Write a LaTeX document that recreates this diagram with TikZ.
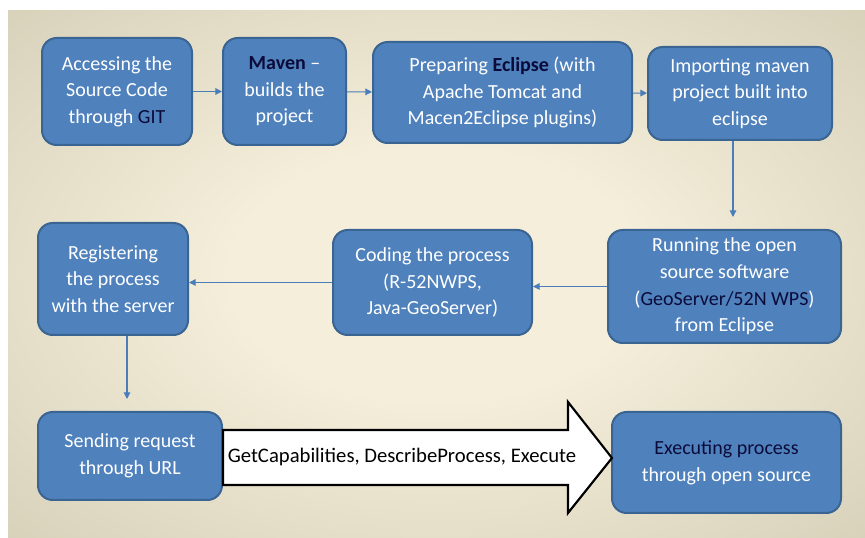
\documentclass[tikz,border=0pt]{standalone}
\usepackage{fontspec}
\setmainfont{Carlito}
\usetikzlibrary{arrows.meta}

\definecolor{boxblue}{HTML}{4F81BD}
\definecolor{boxedge}{HTML}{3A6491}
\definecolor{flowblue}{HTML}{4A7EBB}
\definecolor{keyword}{HTML}{0B0B3A}
\definecolor{bgcream}{HTML}{F4EEDA}
\definecolor{bgmid}{HTML}{C9C3AB}
\definecolor{bggray}{HTML}{97947F}

\pgfdeclareradialshading{bgshade}{\pgfpoint{0bp}{0bp}}{%
  color(0bp)=(bgcream); color(12bp)=(bgcream); color(48bp)=(bgmid); color(71bp)=(bggray)}

\tikzset{
  stepbox/.style={draw=boxedge, line width=1.5pt, fill=boxblue, rounded corners=11pt,
    text=white, align=center, inner sep=2pt, font=\fontsize{15}{20}\selectfont},
  flow/.style={draw=flowblue, line width=0.8pt, -{Triangle[length=5pt,width=5pt]}},
  bigarrow/.style={draw=black, line width=1.6pt, fill=white},
}
\newcommand{\keyw}[1]{\textcolor{keyword}{#1}}

\begin{document}
\begin{tikzpicture}[x=0.75pt, y=-0.75pt]
    \useasboundingbox (0,0) rectangle (865,538);

    % Background
    \shade[shading=bgshade] (8,11) rectangle (865,538);

    % First row
    \node[stepbox, minimum width=112.5pt, minimum height=80.25pt] (access) at (117,91.5)
        {Accessing the\\Source Code\\through \keyw{GIT}};
    \node[stepbox, minimum width=92.25pt, minimum height=80.25pt] (maven) at (284.5,91.5)
        {\keyw{\bfseries Maven} --\\builds the\\project};
    \node[stepbox, minimum width=194.25pt, minimum height=75.75pt] (eclipse) at (502.5,92.5)
        {Preparing \keyw{\bfseries Eclipse} (with\\Apache Tomcat and\\Macen2Eclipse plugins)};
    \node[stepbox, minimum width=138pt, minimum height=69.75pt] (import) at (740,93.5)
        {Importing maven\\project built into\\eclipse};

    % Second row
    \node[stepbox, minimum width=174.75pt, minimum height=84.75pt] (run) at (724.5,286.5)
        {Running the open\\source software\\(\keyw{GeoServer/52N WPS})\\from Eclipse};
    \node[stepbox, minimum width=149.25pt, minimum height=78.75pt] (code) at (432.5,282.5)
        {Coding the process\\(R-52NWPS,\\Java-GeoServer)};
    \node[stepbox, minimum width=112.5pt, minimum height=84pt] (register) at (113,279)
        {Registering\\the process\\with the server};

    % Third row
    \node[stepbox, minimum width=138pt, minimum height=66pt] (send) at (130,456)
        {Sending request\\through URL};
    \node[stepbox, minimum width=171.75pt, minimum height=75.75pt] (execute) at (726.5,462.5)
        {\keyw{Executing process}\\through open source};

    % Connectors
    \draw[flow] (access) -- (maven);
    \draw[flow] (maven) -- (eclipse);
    \draw[flow] (eclipse) -- (import);
    \draw[flow, shorten >=9pt] (import.south -| 733,0) -- (run.north -| 733,0);
    \draw[flow] (run.west) -- (code.east |- run.west);
    \draw[flow] (code.west) -- (register.east |- code.west);
    \draw[flow, shorten >=9pt] (register.south -| 127,0) -- (send.north -| 127,0);

    % Big arrow with the requests
    \coordinate (tail) at (send.east);
    \coordinate (tip) at (612,458);
    \draw[bigarrow] (tail |- 0,430) -- (568,430) -- (568,402) -- (tip)
        -- (568,513) -- (568,485) -- (tail |- 0,485) -- cycle;
    \node[font=\fontsize{15.5}{18}\selectfont] (requests) at (402,457)
        {GetCapabilities, DescribeProcess, Execute};

\end{tikzpicture}
\end{document}
